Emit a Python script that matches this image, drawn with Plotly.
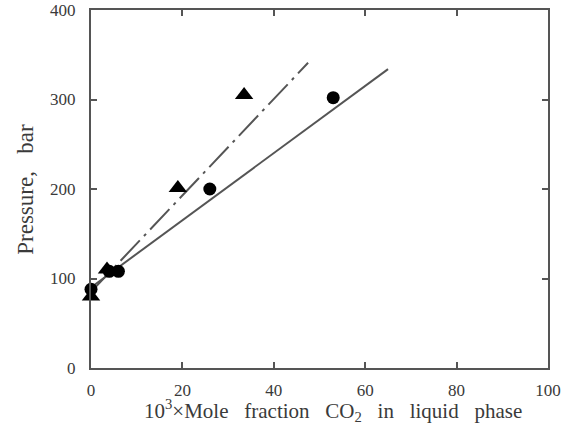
import plotly.graph_objects as go

# Circles series
circle_x = [0, 4, 6, 26, 53]
circle_y = [88, 108, 108, 200, 302]
# Triangle series
tri_x = [0, 3.5, 19, 33.5]
tri_y = [80, 110, 201, 305]
# Fitted line endpoints
solid_x = [0, 65]
solid_y = [90, 334]
dashdot_x = [0, 47.5]
dashdot_y = [85, 341]

x_ticks = [0, 20, 40, 60, 80, 100]
y_ticks = [0, 100, 200, 300, 400]

x_title = "10<sup>3</sup>×Mole\u00a0\u00a0 fraction\u00a0\u00a0 CO<sub>2</sub>\u00a0\u00a0 in\u00a0\u00a0 liquid\u00a0\u00a0 phase"
y_title = "Pressure,\u00a0\u00a0 bar"

fig = go.Figure()
fig.add_trace(go.Scatter(x=solid_x, y=solid_y, mode="lines",
                         line=dict(color="#555555", width=2), showlegend=False))
fig.add_trace(go.Scatter(x=dashdot_x, y=dashdot_y, mode="lines",
                         line=dict(color="#555555", width=2, dash="28px,6px,3px,6px"),
                         showlegend=False))
fig.add_trace(go.Scatter(x=circle_x, y=circle_y, mode="markers", cliponaxis=False,
                         marker=dict(symbol="circle", size=13, color="black"), showlegend=False))
fig.add_trace(go.Scatter(x=tri_x, y=tri_y, mode="markers", cliponaxis=False,
                         marker=dict(symbol="triangle-up", size=16, color="black"), showlegend=False))

tick_font = dict(family="Liberation Serif", size=17, color="#3a3a3a")
title_font = dict(family="Liberation Serif", size=21, color="#3a3a3a")
axis_common = dict(showgrid=False, zeroline=False, showline=True, linecolor="#555555",
                   linewidth=2, mirror="ticks", ticks="inside", ticklen=6, tickwidth=1.5,
                   tickcolor="#555555", tickfont=tick_font, automargin=False,
                   ticklabeloverflow="allow")

fig.update_layout(
    width=563, height=430,
    margin=dict(l=91, r=15, t=10, b=62),
    paper_bgcolor="white", plot_bgcolor="white",
    xaxis=dict(range=[0, 100], tickvals=x_ticks, ticklabelstandoff=6, **axis_common),
    yaxis=dict(range=[0, 400], tickvals=y_ticks, ticklabelstandoff=10, **axis_common),
    annotations=[
        dict(text=x_title, xref="paper", yref="paper", x=0.53, y=-0.12,
             xanchor="center", yanchor="middle", showarrow=False, font=title_font),
        dict(text=y_title, xref="paper", yref="paper", x=-0.145, y=0.5, textangle=-90,
             xanchor="center", yanchor="middle", showarrow=False,
             font=dict(family="Liberation Serif", size=23, color="#3a3a3a")),
    ],
)

fig.write_html("out.html", config={"displayModeBar": False},
               post_script="document.body.style.margin='0';")
